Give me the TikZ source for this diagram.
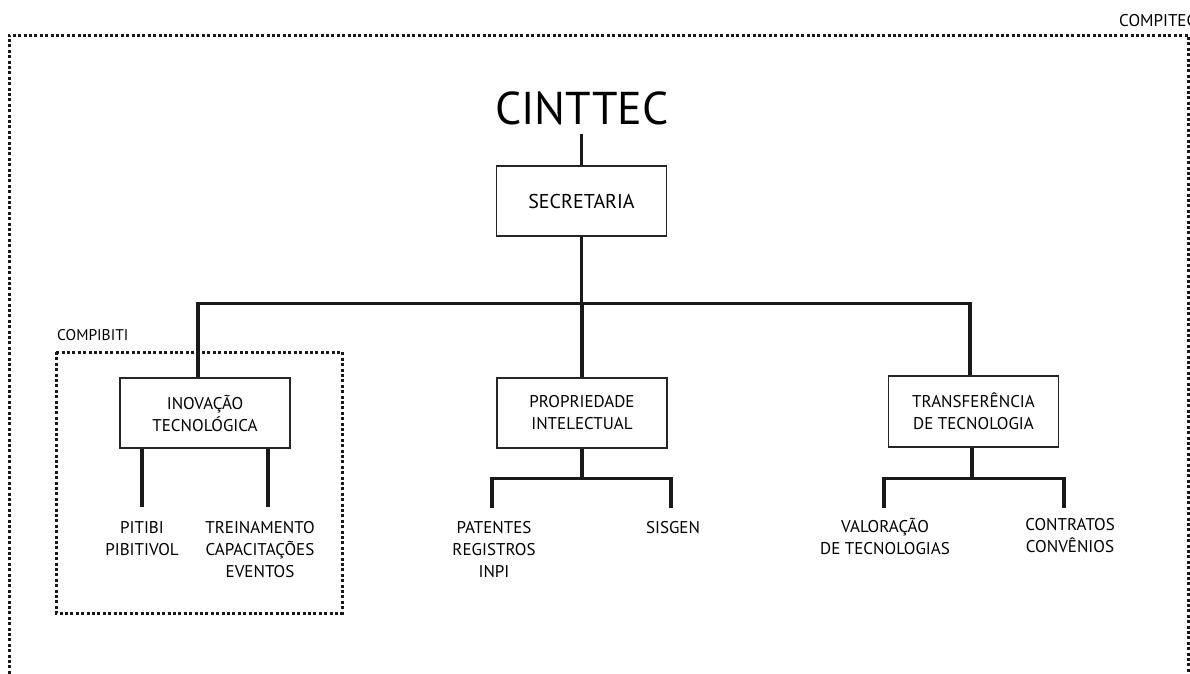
\documentclass[tikz,border=0pt]{standalone}
\usepackage{fontspec}
\setmainfont{PT Sans}
\begin{document}
\begin{tikzpicture}[x=1pt,y=-1pt,
  box/.style={draw=black!85,line width=1.5pt,minimum width=170pt,minimum height=70pt,align=center,inner sep=0pt,
    font=\fontsize{17}{22}\selectfont,text=black},
  leaf/.style={align=center,inner sep=0pt,font=\fontsize{17}{22}\selectfont,text=black},
  thickline/.style={line width=3.2pt,black!90},
  dotline/.style={line width=3pt,dash pattern=on 3pt off 2.4pt,black!90},
  lbl/.style={inner sep=0pt,font=\fontsize{15.5}{18}\selectfont,text=black}]
\useasboundingbox (0,0) rectangle (1190,673);
% outer dotted frame
\draw[dotline] (9,690) -- (9,35) -- (1188,35) -- (1188,690);
\node[lbl,anchor=west,font=\fontsize{17}{18}\selectfont] (compitec) at (1119,21) {COMPITEC};
% inner dotted frame
\draw[dotline] (56,352) rectangle (342,613);
\node[lbl,anchor=west] (compibiti) at (57,335) {COMPIBITI};
% title
\node[inner sep=0pt,font=\fontsize{46}{50}\selectfont] (cinttec) at (582,108) {CINTTEC};
% boxes
\node[box,font=\fontsize{20}{24}\selectfont] (sec) at (581.5,201) {SECRETARIA};
\node[box] (inov) at (205,413) {INOVAÇÃO\\TECNOLÓGICA};
\node[box] (prop) at (582,413) {PROPRIEDADE\\INTELECTUAL};
\node[box,minimum height=71pt] (tra) at (973.5,411.5) {TRANSFERÊNCIA\\DE TECNOLOGIA};
% leaves
\node[leaf] (pit) at (142,539) {PITIBI\\PIBITIVOL};
\node[leaf] (tre) at (260,550) {TREINAMENTO\\CAPACITAÇÕES\\EVENTOS};
\node[leaf] (pat) at (494,550) {PATENTES\\REGISTROS\\INPI};
\node[leaf] (sis) at (673,528) {SISGEN};
\node[leaf] (val) at (885,536) {VALORAÇÃO\\DE TECNOLOGIAS};
\node[leaf] (con) at (1070,536) {CONTRATOS\\CONVÊNIOS};
% drop end coordinates
\coordinate (pitT) at (142,507);
\coordinate (treT) at (268,507);
\coordinate (patT) at (492,508);
\coordinate (sisT) at (671,508);
\coordinate (valT) at (884,508);
\coordinate (conT) at (1064,508);
% connectors
\draw[thickline] (sec.north) -- ++(0,-31) coordinate (cin);
\draw[thickline] (sec.south) -- ++(0,67) coordinate (bar);
\draw[thickline] ([xshift=-7pt]inov.north) |- (bar) -| ([xshift=-3.5pt]tra.north);
\draw[thickline] (prop.north) -- (prop.north |- bar);
\draw[thickline] (inov.south -| pitT) -- (pitT);
\draw[thickline] (inov.south -| treT) -- (treT);
\draw[thickline] (prop.south) -- ++(0,30) coordinate (pj);
\draw[thickline] (patT) |- (pj) -| (sisT);
\draw[thickline] ([xshift=-1.5pt]tra.south) -- ++(0,31) coordinate (tj);
\draw[thickline] (valT) |- (tj) -| (conT);
\end{tikzpicture}
\end{document}
